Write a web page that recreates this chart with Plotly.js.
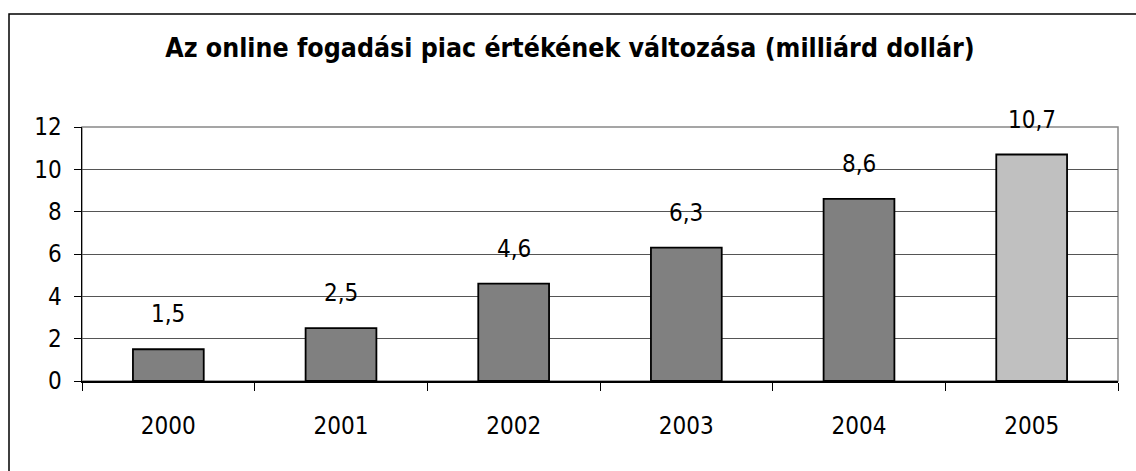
<!DOCTYPE html>
<html>
<head>
<meta charset="utf-8">
<script src="https://cdn.plot.ly/plotly-3.0.1.min.js"></script>
<style>html,body{margin:0;padding:0;background:#fff;}#chart{width:1136px;height:471px;}</style>
</head>
<body>
<div id="chart"></div>
<script>
const categories = ['2000', '2001', '2002', '2003', '2004', '2005'];
const values = [1.5, 2.5, 4.6, 6.3, 8.6, 10.7];
const valueLabels = ['1,5', '2,5', '4,6', '6,3', '8,6', '10,7'];
const barColors = ['#808080', '#808080', '#808080', '#808080', '#808080', '#C0C0C0'];
const yTicks = [0, 2, 4, 6, 8, 10, 12];
const titleText = 'Az online fogadási piac értékének változása (milliárd dollár)';

const FONT = 'DejaVu Sans Condensed, DejaVu Sans, sans-serif';

const trace = {
  type: 'bar',
  x: categories,
  y: values,
  width: 0.41,
  marker: {color: barColors, line: {color: '#000', width: 1.8}},
  hoverinfo: 'none'
};

const annotations = categories.map((c, i) => ({
  x: i, y: values[i], xref: 'x', yref: 'y',
  text: valueLabels[i], showarrow: false,
  yanchor: 'middle', xanchor: 'center', yshift: 35,
  font: {family: FONT, size: 24, color: '#000'}
}));

const layout = {
  width: 1136, height: 471,
  margin: {l: 82, r: 18, t: 127, b: 90, pad: 0},
  paper_bgcolor: '#fff', plot_bgcolor: '#fff',
  showlegend: false,
  title: {
    text: '<b>' + titleText + '</b>',
    x: 570/1136, xref: 'container', xanchor: 'center',
    y: 1 - 48/471, yref: 'container', yanchor: 'middle',
    font: {family: FONT, size: 26.5, color: '#000'}
  },
  xaxis: {
    type: 'category',
    range: [-0.5, 5.5],
    showgrid: false, zeroline: false,
    showline: true, linecolor: '#000', linewidth: 1.5,
    ticks: 'outside', tickson: 'boundaries', ticklen: 8, tickcolor: '#000', tickwidth: 1,
    ticklabelstandoff: 23,
    tickfont: {family: FONT, size: 24, color: '#000'}
  },
  yaxis: {
    range: [0, 12], tickvals: yTicks, ticktext: yTicks.map(String),
    showgrid: true, gridcolor: '#555', gridwidth: 1,
    zeroline: false,
    showline: true, linecolor: '#000', linewidth: 1.5,
    ticks: 'outside', ticklen: 7, tickcolor: '#000', tickwidth: 1,
    ticklabelstandoff: 7,
    tickfont: {family: FONT, size: 24, color: '#000'}
  },
  annotations: annotations,
  shapes: [
    {type: 'rect', xref: 'paper', yref: 'paper', x0: 0, x1: 1, y0: 0, y1: 1,
     line: {color: '#888', width: 1.5}, layer: 'below'},
    {type: 'rect', xref: 'paper', yref: 'paper',
     x0: (9 - 82) / 1036, x1: 1.2, y0: -1, y1: (381 - 14) / 254,
     line: {color: '#000', width: 1.5}, fillcolor: 'rgba(0,0,0,0)', layer: 'above'}
  ]
};

Plotly.newPlot('chart', [trace], layout, {displayModeBar: false, staticPlot: true});
</script>
</body>
</html>
